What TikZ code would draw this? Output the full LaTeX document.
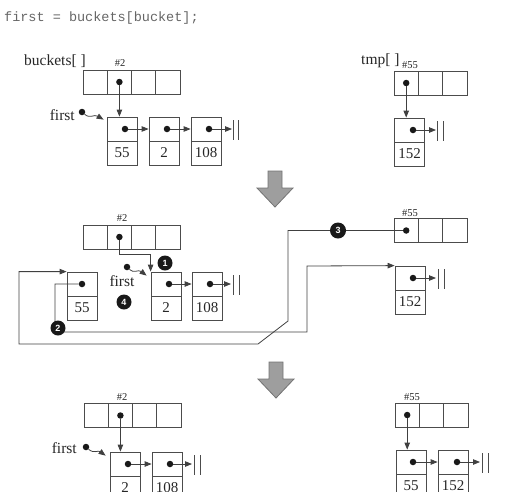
\documentclass[tikz,border=0pt]{standalone}
\usepackage{fontspec}
\setmainfont{Liberation Serif}
\newfontfamily\codefont{Liberation Mono}
\newfontfamily\markfont{Liberation Sans}
\usetikzlibrary{arrows.meta}

\begin{document}
\begin{tikzpicture}[x=1pt,y=1pt]
\tikzstyle{every node}+=[inner sep=0pt]
\tikzstyle{cell}=[draw=black!70, line width=0.8pt, minimum width=24.3pt, minimum height=24pt]
\tikzstyle{box}=[draw=black!70, line width=0.8pt, minimum width=30pt, minimum height=24pt, text=black!85, font=\fontsize{15}{18}\selectfont]
\tikzstyle{dot}=[circle, fill=black!90, minimum size=6.5pt]
\tikzstyle{ptr}=[draw=black!75, line width=0.8pt, -{Triangle[length=7pt,width=5.5pt]}]
\tikzstyle{wire}=[draw=black!70, line width=0.8pt]
\tikzstyle{lbl}=[text=black!85, font=\fontsize{15.5}{18}\selectfont]
\tikzstyle{idx}=[text=black!85, font=\fontsize{10.5}{12}\selectfont]
\tikzstyle{badge}=[circle, fill=black!90, text=white, minimum size=15pt, font=\markfont\bfseries\fontsize{9}{10}\selectfont]
\tikzstyle{bigarrow}=[fill=black!38, draw=black!55, line width=0.8pt]
\useasboundingbox (0,0) rectangle (521,-491);
\clip (0,0) rectangle (521,-491);
\node [anchor=west, text=black!60, font=\codefont\fontsize{13.5}{16}\selectfont] (code) at (4,-18) {first = buckets[bucket];};
\node [lbl, anchor=west] (bname) at (24,-61) {buckets[ ]};
\node [idx] (bidx) at (120,-63) {\#2};
\node [cell] (b0) at (95.1,-82) {};
\node [cell] (b1) at (119.4,-82) {};
\node [cell] (b2) at (143.6,-82) {};
\node [cell] (b3) at (167.9,-82) {};
\node [dot] (b1d) at (b1) {};
\node [box] (n55) at (122,-129) {};
\node [box] (n55v) at (122,-153) {55};
\node [dot] (n55d) at (125,-129) {};
\node [box] (n2) at (164,-129) {};
\node [box] (n2v) at (164,-153) {2};
\node [dot] (n2d) at (167,-129) {};
\node [box] (n108) at (206,-129) {};
\node [box] (n108v) at (206,-153) {108};
\node [dot] (n108d) at (209,-129) {};
\coordinate (n108z) at (232,-129);
\draw [ptr] (b1d) -- (b1d |- n55.north);
\draw [ptr] (n55d) -- (n2.west);
\draw [ptr] (n2d) -- (n108.west);
\draw [ptr] (n108d) -- (n108z);
\draw [wire] (233.5,-120) -- (233.5,-140) (238.5,-120) -- (238.5,-140);
\node [lbl, anchor=east] (fname) at (75,-115) {first};
\node [dot] (fd) at (82,-112) {};
\coordinate (fa) at ([shift={(-3,-3)}]n55.north west);
\draw [ptr] (fd) .. controls (90,-119) and (94,-114) .. (fa);
\node [lbl, anchor=west] (tname) at (361,-61) {tmp[ ]};
\node [idx] (tidx) at (410,-65) {\#55};
\node [cell] (t0) at (406.2,-83) {};
\node [cell] (t1) at (430.5,-83) {};
\node [cell] (t2) at (454.8,-83) {};
\node [dot] (t0d) at (t0) {};
\node [box] (n152) at (409.5,-130) {};
\node [box] (n152v) at (409.5,-154) {152};
\node [dot] (n152d) at (413,-130) {};
\coordinate (n152z) at (436,-130);
\draw [ptr] (t0d) -- (t0d |- n152.north);
\draw [ptr] (n152d) -- (n152z);
\draw [wire] (437.5,-121) -- (437.5,-141) (443,-121) -- (443,-141);
\draw [bigarrow] (268,-171) -- (282,-171) -- (282,-188) -- (293,-188) -- (275,-207) -- (257,-188) -- (268,-188) -- cycle;
\node [idx] (mbidx) at (122,-218) {\#2};
\node [cell] (mb0) at (95.1,-237) {};
\node [cell] (mb1) at (119.4,-237) {};
\node [cell] (mb2) at (143.6,-237) {};
\node [cell] (mb3) at (167.9,-237) {};
\node [dot] (mb1d) at (mb1) {};
\node [box] (m55) at (82,-284) {};
\node [box] (m55v) at (82,-308) {55};
\node [dot] (m55d) at (82,-284) {};
\node [box] (m2) at (166,-284) {};
\node [box] (m2v) at (166,-308) {2};
\node [dot] (m2d) at (169,-284) {};
\node [box] (m108) at (207,-284) {};
\node [box] (m108v) at (207,-308) {108};
\node [dot] (m108d) at (210,-284) {};
\coordinate (m108z) at (231,-284);
\draw [ptr] (mb1d) |- ([yshift=17pt]m2.north west) -- (m2.north west);
\draw [ptr] (m2d) -- (m108.west);
\draw [ptr] (m108d) -- (m108z);
\draw [wire] (233.5,-275) -- (233.5,-295) (239.5,-275) -- (239.5,-295);
\node [dot] (mfd) at (127,-267) {};
\coordinate (mfa) at ([shift={(-4,-4)}]m2.north west);
\draw [ptr] (mfd) .. controls (134,-274) and (138,-269) .. (mfa);
\node [lbl] (mfname) at (122,-281) {first};
\node [idx] (mtidx) at (410,-213) {\#55};
\node [cell] (mt0) at (406.2,-230.5) {};
\node [cell] (mt1) at (430.5,-230.5) {};
\node [cell] (mt2) at (454.8,-230.5) {};
\node [dot] (mt0d) at (mt0) {};
\node [box] (m152) at (410,-278) {};
\node [box] (m152v) at (410,-302) {152};
\node [dot] (m152d) at (413,-278) {};
\coordinate (m152z) at (436,-278);
\draw [ptr] (m152d) -- (m152z);
\draw [wire] (438.5,-269) -- (438.5,-289) (444.5,-269) -- (444.5,-289);
\draw [ptr] (m55d) -| (55,-332) -| (307,-266) -- (m152.north west);
\draw [ptr] (mt0d) -- (288,-230.5) -- (288,-321) -- (258,-344) -- (19,-344) |- (m55.north west);
\node [badge] (s1) at (165,-263) {1};
\node [badge] (s2) at (58,-328) {2};
\node [badge, minimum size=16pt] (s3) at (338,-230.5) {3};
\node [badge] (s4) at (124,-302) {4};
\draw [bigarrow] (269,-362) -- (283,-362) -- (283,-379) -- (294,-379) -- (276,-398) -- (258,-379) -- (269,-379) -- cycle;
\node [idx] (kbidx) at (122,-397) {\#2};
\node [cell] (kb0) at (96.1,-415.5) {};
\node [cell] (kb1) at (120.4,-415.5) {};
\node [cell] (kb2) at (144.6,-415.5) {};
\node [cell] (kb3) at (168.9,-415.5) {};
\node [dot] (kb1d) at (kb1) {};
\node [box] (k2) at (125,-464) {};
\node [box] (k2v) at (125,-488) {2};
\node [dot] (k2d) at (128,-464) {};
\node [box] (k108) at (167,-464) {};
\node [box] (k108v) at (167,-488) {108};
\node [dot] (k108d) at (170,-464) {};
\coordinate (k108z) at (192,-464);
\draw [ptr] (kb1d) -- (kb1d |- k2.north);
\draw [ptr] (k2d) -- (k108.west);
\draw [ptr] (k108d) -- (k108z);
\draw [wire] (194.5,-455) -- (194.5,-475) (200,-455) -- (200,-475);
\node [lbl, anchor=east] (kfname) at (77,-448) {first};
\node [dot] (kfd) at (86,-447) {};
\coordinate (kfa) at ([shift={(-4,-4)}]k2.north west);
\draw [ptr] (kfd) .. controls (94,-454) and (98,-450) .. (kfa);
\node [idx] (ktidx) at (412,-397) {\#55};
\node [cell] (kt0) at (407.2,-415) {};
\node [cell] (kt1) at (431.5,-415) {};
\node [cell] (kt2) at (455.8,-415) {};
\node [dot] (kt0d) at (kt0) {};
\node [box] (k55) at (411,-462) {};
\node [box] (k55v) at (411,-486) {55};
\node [dot] (k55d) at (413,-462) {};
\node [box] (k152) at (453,-462) {};
\node [box] (k152v) at (453,-486) {152};
\node [dot] (k152d) at (457,-462) {};
\coordinate (k152z) at (480,-462);
\draw [ptr] (kt0d) -- (kt0d |- k55.north);
\draw [ptr] (k55d) -- (k152.west);
\draw [ptr] (k152d) -- (k152z);
\draw [wire] (482,-453) -- (482,-473) (488,-453) -- (488,-473);
\end{tikzpicture}
\end{document}
